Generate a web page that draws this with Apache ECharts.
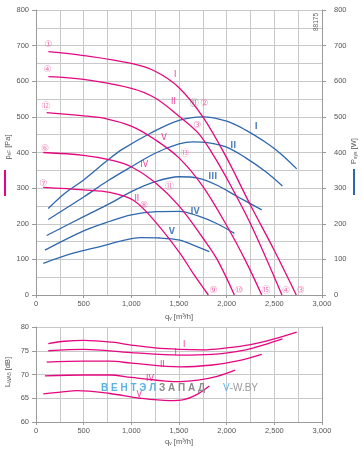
<!DOCTYPE html>
<html><head><meta charset="utf-8">
<script src="https://cdn.jsdelivr.net/npm/echarts@6/dist/echarts.min.js"></script>
<style>html,body{margin:0;padding:0;background:#fff}#c{width:363px;height:451px}</style>
</head><body><div id="c"></div>
<script>
// Pressure curves p_sF [Pa] vs q_v [m3/h]
const psfI   = [[130,683],[500,672],[1000,650],[1250,628],[1500,582],[1750,500],[2000,385],[2250,252],[2500,125],[2730,0]];
const psfII  = [[130,613],[500,605],[1000,580],[1250,553],[1500,502],[1700,455],[1850,397],[2000,328],[2250,200],[2580,0]];
const psfIII = [[112,512],[500,503],[750,494],[1000,474],[1250,436],[1500,385],[1750,305],[2000,195],[2200,95],[2368,0]];
const psfIV  = [[76,400],[500,392],[800,378],[1000,360],[1250,316],[1500,250],[1750,160],[1900,100],[2081,0]];
const psfV   = [[76,302],[500,295],[776,288],[1021,266],[1250,206],[1511,117],[1650,60],[1808,0]];
// Power curves P_sys [W]
const psysI   = [[129,243],[300,285],[500,323],[750,378],[900,408],[1200,454],[1500,490],[1750,500],[2000,488],[2200,463],[2400,430],[2560,398],[2735,354]];
const psysII  = [[129,212],[500,275],[750,320],[1000,360],[1250,398],[1500,424],[1650,430],[1800,428],[2000,415],[2200,385],[2400,348],[2585,306]];
const psysIII = [[112,167],[500,220],[776,257],[1000,290],[1250,318],[1500,332],[1700,328],[1900,308],[2100,278],[2368,239]];
const psysIV  = [[94,126],[500,180],[776,207],[1000,225],[1266,234],[1500,235],[1700,222],[1900,200],[2081,173]];
const psysV   = [[76,89],[400,118],[672,136],[900,152],[1100,161],[1300,160],[1511,154],[1650,140],[1818,122]];
// Sound level L [dB]
const lwaI   = [[129,76.5],[300,77.0],[500,77.2],[800,76.8],[1000,76.2],[1250,75.6],[1500,75.3],[1750,75.2],[2000,75.6],[2250,76.3],[2500,77.5],[2735,78.9]];
const lwaII  = [[129,75.0],[500,75.3],[1000,74.6],[1500,74.1],[1850,74.25],[2200,75.2],[2400,76.3],[2585,77.5]];
const lwaIII = [[112,72.6],[500,72.8],[776,72.8],[1000,72.4],[1511,71.6],[1850,72.0],[2100,72.8],[2368,74.25]];
const lwaIV  = [[94,69.7],[500,69.9],[776,69.9],[1000,69.4],[1511,68.5],[1700,68.8],[1900,69.6],[2090,70.9]];
const lwaV   = [[76,65.9],[300,66.4],[430,66.6],[776,66.0],[1091,65.0],[1400,64.5],[1550,64.7],[1680,65.7],[1818,67.6]];
// Labels
const pinkRoman = [[1459,617,'I'],[1441,541,'II'],[1343,440,'V'],[1135,364,'IV'],[1057,269,'II']];
const blueRoman = [[2309,471,'I'],[2070,418,'II'],[1854,332,'III'],[1668,234,'IV'],[1424,178,'V']];
const circledPink = [[129,703,'①'],[122,633,'④'],[105,528,'⑫'],[94,412,'⑥'],[76,313,'⑦'],
  [1861,12,'⑨'],[2130,12,'⑩'],[2413,12,'⑮'],[2623,12,'④'],[2777,12,'③'],
  [1766,538,'②'],[1693,475,'③'],[1563,398,'⑬'],[1399,304,'⑪'],[1133,250,'⑧']];
const circledGray = [[1661,538,'⑪']];
const soundRoman = [[1555,76.2,'I'],[1466,74.6,'I'],[1325,72.0,'II'],[1196,69.0,'IV'],[1084,65.7,'V']];
const xTicks = {min:0, max:3000, step:500};
const pTicks = {min:0, max:800, step:100};
const lTicks = {min:60, max:80, step:5};

const PINK = '#e5077f', BLUE = '#2e67ae', GRID = '#c8c8c8', AX = '#9a9a9a', TXT = '#555';
const FONT = 'Liberation Sans, Arial, sans-serif';

function line(data, color, xi, yi){
  return {type:'line', data:data, xAxisIndex:xi, yAxisIndex:yi, smooth:0.35, symbol:'none',
    lineStyle:{color:color, width:1.3}, silent:true, animation:false, z:3};
}
function labels(data, color, size, weight, xi, yi){
  return {type:'scatter', data:data, xAxisIndex:xi, yAxisIndex:yi, symbolSize:1,
    itemStyle:{color:'rgba(0,0,0,0)'}, silent:true, animation:false, z:6,
    label:{show:true, position:'inside', formatter:function(p){return p.data[2];},
      color:color, fontSize:size, fontWeight:weight, fontFamily:'DejaVu Sans, Noto Sans CJK SC, sans-serif'}};
}
const xName = {rich:{q:{fontSize:7.5,color:TXT,fontFamily:FONT},s:{fontSize:5,color:TXT,verticalAlign:'bottom',padding:[4,0,0,0],fontFamily:FONT}}};
function xAxisCfg(gi){
  return {gridIndex:gi, type:'value', min:xTicks.min, max:xTicks.max, interval:xTicks.step,
    axisLine:{show:true, lineStyle:{color:AX, width:1}},
    axisTick:{show:true, length:3, lineStyle:{color:AX}},
    axisLabel:{fontSize:7.5, color:TXT, margin:5, fontFamily:FONT, formatter:function(v){return v.toLocaleString('en-US');}},
    splitLine:{show:true, lineStyle:{color:GRID, width:1}},
    minorTick:{show:false, splitNumber:2},
    minorSplitLine:{show:true, lineStyle:{color:GRID, width:1}},
    name:'{q|q}{s|v}{q| [m³/h]}', nameLocation:'middle', nameGap:15, nameTextStyle:xName};
}
const chart = echarts.init(document.getElementById('c'));
chart.setOption({
  animation:false,
  backgroundColor:'#fff',
  grid:[{left:36, top:10, width:286, height:285},{left:36, top:327, width:286, height:95}],
  xAxis:[xAxisCfg(0), xAxisCfg(1)],
  yAxis:[
    {gridIndex:0, type:'value', min:pTicks.min, max:pTicks.max, interval:pTicks.step,
     axisLine:{show:true, lineStyle:{color:AX}}, axisTick:{show:true, length:4, lineStyle:{color:AX}},
     axisLabel:{fontSize:7.5, color:TXT, margin:7, fontFamily:FONT},
     splitLine:{show:true, lineStyle:{color:GRID}}, minorTick:{show:false, splitNumber:2},
     minorSplitLine:{show:true, lineStyle:{color:GRID}}},
    {gridIndex:0, type:'value', position:'right', min:pTicks.min, max:pTicks.max, interval:pTicks.step,
     axisLine:{show:true, lineStyle:{color:AX}}, axisTick:{show:true, length:4, lineStyle:{color:AX}},
     axisLabel:{fontSize:7.5, color:TXT, margin:12, fontFamily:FONT},
     splitLine:{show:false}},
    {gridIndex:1, type:'value', min:lTicks.min, max:lTicks.max, interval:lTicks.step,
     axisLine:{show:true, lineStyle:{color:AX}}, axisTick:{show:true, length:4, lineStyle:{color:AX}},
     axisLabel:{fontSize:7.5, color:TXT, margin:7, fontFamily:FONT},
     splitLine:{show:true, lineStyle:{color:GRID}}},
    {gridIndex:1, type:'value', position:'right', min:lTicks.min, max:lTicks.max, interval:lTicks.step,
     axisLine:{show:true, lineStyle:{color:AX}}, axisTick:{show:false}, axisLabel:{show:false}, splitLine:{show:false}}
  ],
  series:[
    line(psysI,BLUE,0,1), line(psysII,BLUE,0,1), line(psysIII,BLUE,0,1), line(psysIV,BLUE,0,1), line(psysV,BLUE,0,1),
    line(psfI,PINK,0,0), line(psfII,PINK,0,0), line(psfIII,PINK,0,0), line(psfIV,PINK,0,0), line(psfV,PINK,0,0),
    line(lwaI,PINK,1,2), line(lwaII,PINK,1,2), line(lwaIII,PINK,1,2), line(lwaIV,PINK,1,2), line(lwaV,PINK,1,2),
    labels(pinkRoman,PINK,8,'normal',0,0),
    labels(blueRoman,BLUE,8,'bold',0,1),
    labels(circledPink,'#ec5aa3',9,'normal',0,0),
    labels(circledGray,'#666666',9,'normal',0,0),
    labels(soundRoman,PINK,8,'normal',1,2)
  ],
  graphic:[
    {type:'text', x:8, y:147, rotation:Math.PI/2, z:10,
     style:{text:'{a|p}{b|sF}{a| [Pa]}', textAlign:'center', textVerticalAlign:'middle', align:'center', verticalAlign:'middle',
       rich:{a:{fontSize:7.5,fill:TXT,color:TXT,fontFamily:FONT}, b:{fontSize:5,fill:TXT,color:TXT,fontFamily:FONT,padding:[4,0,0,0]}}}},
    {type:'rect', shape:{x:4, y:170, width:2, height:26}, style:{fill:PINK}, z:10},
    {type:'text', x:354, y:151, rotation:Math.PI/2, z:10,
     style:{text:'{a|P}{b|sys}{a| [W]}', textAlign:'center', textVerticalAlign:'middle', align:'center', verticalAlign:'middle',
       rich:{a:{fontSize:7.5,fill:TXT,color:TXT,fontFamily:FONT}, b:{fontSize:5,fill:TXT,color:TXT,fontFamily:FONT,padding:[4,0,0,0]}}}},
    {type:'rect', shape:{x:353, y:169, width:2, height:26}, style:{fill:BLUE}, z:10},
    {type:'text', x:8, y:372, rotation:Math.PI/2, z:10,
     style:{text:'{a|L}{b|WA5}{a| [dB]}', textAlign:'center', textVerticalAlign:'middle', align:'center', verticalAlign:'middle',
       rich:{a:{fontSize:7.5,fill:TXT,color:TXT,fontFamily:FONT}, b:{fontSize:5,fill:TXT,color:TXT,fontFamily:FONT,padding:[4,0,0,0]}}}},
    {type:'text', x:316, y:22, rotation:Math.PI/2, z:10,
     style:{text:'88175', fontSize:6.5, fill:'#666', textAlign:'center', textVerticalAlign:'middle', align:'center', verticalAlign:'middle', fontFamily:FONT}},
    {type:'text', x:101, y:388, z:10,
     style:{text:'{b|В Е Н Т Э Л }{g|З А П А Д}', textVerticalAlign:'middle', verticalAlign:'middle',
       rich:{b:{fontSize:10,fontWeight:'bold',fill:'#5ab3e6',color:'#5ab3e6',fontFamily:FONT}, g:{fontSize:10,fontWeight:'bold',fill:'#8a8a8a',color:'#8a8a8a',fontFamily:FONT}}}},
    {type:'text', x:223, y:388, z:10,
     style:{text:'{b|V}{g|-W.BY}', textVerticalAlign:'middle', verticalAlign:'middle',
       rich:{b:{fontSize:10,fill:'#5ab3e6',color:'#5ab3e6',fontFamily:FONT}, g:{fontSize:10,fill:'#9a9a9a',color:'#9a9a9a',fontFamily:FONT}}}}
  ]
});
</script></body></html>
